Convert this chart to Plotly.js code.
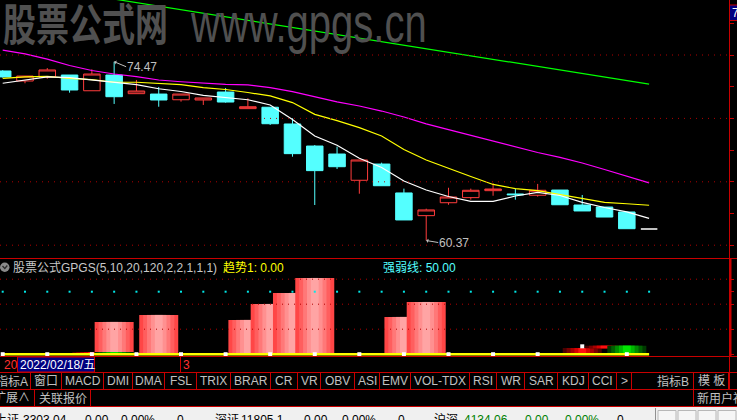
<!DOCTYPE html>
<html><head><meta charset="utf-8">
<script src="https://cdn.plot.ly/plotly-3.0.1.min.js"></script>
<style>html,body{margin:0;padding:0;background:#000;overflow:hidden}#chart{width:737px;height:420px}</style>
</head><body><div id="chart"></div>
<script>
// ---------------- data ----------------
const days  = [0,1,2,3,4,5,6,7,8,9,10,11,12,13,14,15,16,17,18,19,20,21,22,23,24,25,26,27,28,29];
const open  = [73.74,72.95,73.27,73.42,72.18,73.42,71.95,71.92,71.47,71.45,72.08,70.77,70.88,69.56,67.82,67.19,65.12,66.40,64.12,62.33,63.35,63.75,64.30,64.04,63.94,64.35,63.17,63.01,62.62,61.28];
const high  = [73.80,73.34,73.97,73.42,73.87,74.47,73.03,72.48,71.92,71.61,72.40,71.59,70.88,70.01,67.90,67.77,66.72,66.51,64.46,62.88,64.53,64.46,64.88,64.46,64.83,64.35,63.96,63.01,62.62,61.28];
const low   = [73.22,72.77,73.13,72.03,72.18,71.14,71.95,70.92,71.32,71.06,71.24,70.77,69.48,66.98,63.17,66.01,64.06,64.69,61.99,60.37,63.19,63.59,63.90,63.59,63.83,63.19,62.70,62.22,61.30,61.28];
const close = [73.27,73.34,73.82,72.24,73.50,71.71,72.16,71.45,71.92,71.61,71.29,70.92,69.58,67.22,65.88,66.19,66.72,64.69,61.99,62.78,63.80,64.33,64.43,63.98,64.33,63.19,62.70,62.22,61.30,61.28];
const ma5   = [72.77,73.00,73.27,73.22,73.05,72.87,72.67,72.34,72.12,71.81,71.62,71.47,71.06,69.91,68.61,67.88,66.86,66.13,65.06,64.35,63.84,63.46,63.46,63.88,64.16,63.92,63.38,62.97,62.63,62.11];
const ma10  = [73.16,73.28,73.32,73.15,73.05,72.85,72.85,72.77,72.67,72.42,72.28,72.04,71.77,71.25,70.32,69.82,69.27,68.61,67.55,66.72,66.05,65.42,64.79,64.46,64.31,64.01,63.67,63.38,63.27,63.15];
const ma20  = [75.38,75.09,74.67,74.17,73.78,73.50,73.30,73.03,72.89,72.76,72.68,72.65,72.43,72.11,71.72,71.31,70.98,70.58,70.11,69.57,69.11,68.66,68.18,67.74,67.31,66.92,66.48,65.97,65.46,64.91];
const ma120 = [80.81,80.53,80.25,79.96,79.68,79.41,79.14,78.84,78.57,78.29,78.00,77.73,77.46,77.18,76.89,76.62,76.33,76.06,75.78,75.50,75.22,74.93,74.65,74.38,74.10,73.82,73.54,73.27,72.99,72.70];

// indicator GPGS
const trend1   = [0,0,0,0,0,0,0,0,0,0,0,0,0,0,0,0,0,0,0,0,0,0,0,0,0,0,0,0,0,0];
const strong   = [50,50,50,50,50,50,50,50,50,50,50,50,50,50,50,50,50,50,50,50,50,50,50,50,50,50,50,50,50,50];
const auxDots  = [0,null,0,null,0,null,0,null,0,null,0,null,0,null,0,null,0,null,0,null,0,null,0,null,0,null,6.3,null,0,null];
const power    = [0,0,0,0,0,25.8,0,31.4,0,0,0,27.4,40.2,49.0,61.0,0,0,0,29.8,41.8,0,0,0,0,0,0,0,0,0,0];
const swingLo  = [null,null,null,null,-0.24,-0.24,null,null,null,null,null,null,null,null,null,null,null,null,null,null,null,null,null,null,null,-0.6,-0.64,4.72,-0.64,null];
const swingHi  = [null,null,null,null,1.76,1.76,null,null,null,null,null,null,null,null,null,null,null,null,null,null,null,null,null,null,null,0.4,4.96,6.8,6.8,null];
const swingDir = [0,0,0,0,1,-1,0,0,0,0,0,0,0,0,0,0,0,0,0,0,0,0,0,0,0,1,1,1,-1,0];

// texts
const watermarkCn = '股票公式网';
const watermarkUrl = 'www.gpgs.cn';
const indTitle = '股票公式GPGS(5,10,20,120,2,2,1,1,1)';
const trendLbl = '趋势1: ' + trend1[trend1.length-1].toFixed(2);
const strongLbl = '强弱线: ' + strong[strong.length-1].toFixed(2);
const dateLbl = '2022/02/18/五';
const btnLabels = ['指标A','窗口','MACD','DMI','DMA','FSL','TRIX','BRAR','CR','VR','OBV','ASI','EMV','VOL-TDX','RSI','WR','SAR','KDJ','CCI','>'];
const row3Labels = ['扩展∧','关联报价','新用户福利'];
const statusItems = ['上证','3303.04','0.00','0.00%','0','深证','11805.1','0.00','0.00%','0','沪深','4134.06','0.00','0.00%','0'];

// ---------------- helpers ----------------
const W = 737, H = 420;
const X = px => px / W;
const Y = py => 1 - py / H;
const RED = '#c80000';
const FONT = 'Liberation Sans, Arial, Noto Sans CJK SC, sans-serif';

const traces = [];
const n = days.length, last = n - 1;

// candles
traces.push({
  type: 'candlestick', x: days.slice(0, last),
  open: open.slice(0, last), high: high.slice(0, last), low: low.slice(0, last), close: close.slice(0, last),
  increasing: {line: {color: '#ff3c3c', width: 1}, fillcolor: '#000000'},
  decreasing: {line: {color: '#54ffff', width: 1}, fillcolor: '#54ffff'},
  whiskerwidth: 0, hoverinfo: 'skip', showlegend: false, xaxis: 'x', yaxis: 'y'
});
traces.push({
  type: 'candlestick', x: [days[last]],
  open: [open[last]], high: [high[last]], low: [low[last]], close: [close[last]],
  increasing: {line: {color: '#ffffff', width: 1.5}, fillcolor: '#ffffff'},
  decreasing: {line: {color: '#ffffff', width: 1.5}, fillcolor: '#ffffff'},
  whiskerwidth: 0, hoverinfo: 'skip', showlegend: false, xaxis: 'x', yaxis: 'y'
});
[[ma120,'#00ff00'],[ma20,'#ff00ff'],[ma10,'#ffff00'],[ma5,'#ffffff']].forEach(([v,c]) => {
  traces.push({type:'scatter', mode:'lines', x: days, y: v, line:{color:c, width:1.2}, hoverinfo:'skip', showlegend:false, xaxis:'x', yaxis:'y'});
});

// indicator: strength dots, trend line, aux dots
traces.push({type:'scatter', mode:'markers', x: days, y: strong, marker:{color:'#00e8e8', size:2, symbol:'square'}, hoverinfo:'skip', showlegend:false, xaxis:'x', yaxis:'y2'});
traces.push({type:'scatter', mode:'lines', x: days, y: trend1, line:{color:'#ffff00', width:2.5}, hoverinfo:'skip', showlegend:false, xaxis:'x', yaxis:'y2'});
traces.push({type:'scatter', mode:'markers', x: days, y: auxDots, marker:{color:'#ffffff', size:4, symbol:'square'}, hoverinfo:'skip', showlegend:false, xaxis:'x', yaxis:'y2'});

const stripeW = [1.75, 1.4, 1.05, 0.7, 0.35];
const pinkC  = ['#ff4646','#ff5e5e','#ff7878','#ff9090','#ffa4a4'];
const dRedC  = ['#4a0000','#780000','#a80000','#d80000','#ff1010'];
const greenC = ['#003a00','#006000','#008c00','#00b800','#00e600'];
function stripes(i, base, top, colors) {
  stripeW.forEach((w, k) => traces.push({
    type:'bar', x:[days[i]], y:[top - base], base:[base], width:[w],
    marker:{color: colors[k], line:{width:0}}, hoverinfo:'skip', showlegend:false, xaxis:'x', yaxis:'y2'
  }));
}
days.forEach((d, i) => { if (power[i] > 0) stripes(i, 0, power[i], pinkC); });
days.forEach((d, i) => { if (swingDir[i] !== 0) stripes(i, swingLo[i], swingHi[i], swingDir[i] > 0 ? dRedC : greenC); });

// ---------------- shapes ----------------
const shapes = [];
const hl = (py, x0, x1, color, w) => shapes.push({type:'line', xref:'paper', yref:'paper', x0:X(x0), x1:X(x1), y0:Y(py), y1:Y(py), line:{color: color||RED, width: w||1}});
const vl = (px, y0, y1, color, w) => shapes.push({type:'line', xref:'paper', yref:'paper', x0:X(px), x1:X(px), y0:Y(y0), y1:Y(y1), line:{color: color||RED, width: w||1}});
const rect = (x0, y0, x1, y1, fill, lc) => shapes.push({type:'rect', xref:'paper', yref:'paper', x0:X(x0), x1:X(x1), y0:Y(y0), y1:Y(y1), fillcolor: fill, line:{color: lc||fill, width: lc ? 1 : 0}});

[60,65,70,75].forEach(v => shapes.push({type:'line', xref:'paper', yref:'y', x0:0, x1:X(729), y0:v, y1:v, line:{color:'#b00000', width:1, dash:'1px,5px'}}));
[20,40,60].forEach(v => shapes.push({type:'line', xref:'paper', yref:'y2', x0:0, x1:X(729), y0:v, y1:v, line:{color:'#b00000', width:1, dash:'1px,5px'}}));

hl(258.5, 0, 737); hl(356.5, 0, 737); hl(372.5, 0, 737); hl(389.5, 0, 737); hl(406.5, 0, 737);
vl(729.5, 0, 389.5);
vl(730.5, 258.5, 356.5, RED, 2);
vl(180.5, 356.5, 372.5);
const btnEdges = [-6, 30.5, 61.5, 103.5, 132.5, 164.5, 196.5, 230.5, 270.5, 297.5, 320.5, 354.5, 379.5, 410.5, 469.5, 496.5, 524.5, 557.5, 588.5, 616.5, 631.5];
btnEdges.slice(1).forEach(e => vl(e, 372.5, 389.5));
vl(693.5, 372.5, 389.5); vl(728.5, 372.5, 389.5);
[34.5, 90.5, 693.5].forEach(e => vl(e, 389.5, 406.5));
rect(17.5, 357, 94.5, 372, '#000080', RED);
rect(729.5, 5, 745, 20.5, '#000080', RED);
rect(0, 407, 737, 420, '#f0f0f0');
vl(655.5, 408, 420, '#909090');
[658, 678, 698, 718].forEach(b => rect(b, 410.5, b + 18, 422, '#f6f6f6', '#b8b8b8'));
shapes.push({type:'circle', xref:'paper', yref:'paper', x0:X(0), x1:X(9.5), y0:Y(262.5), y1:Y(272), fillcolor:'#8a8a8a', line:{width:0}});
shapes.push({type:'path', xref:'paper', yref:'paper', path:`M ${X(2.5)} ${Y(266)} L ${X(4.8)} ${Y(268.5)} L ${X(7.3)} ${Y(265.5)}`, line:{color:'#2a2a2a', width:1.3}});

// ---------------- annotations ----------------
const ann = [];
const txt = (t, px, py, color, size, xanchor, extra) => ann.push(Object.assign({
  text: t, xref:'paper', yref:'paper', x: X(px), y: Y(py), xanchor: xanchor||'center', yanchor:'middle',
  showarrow:false, borderpad:0, font:{family: FONT, size: size||12, color: color}
}, extra||{}));

// watermark: narrow glyphs, stretched vertically after drawing
const stretch = {};
stretch[watermarkCn] = 1.33;
stretch[watermarkUrl] = 1.4;
txt(watermarkCn, 85, 22, '#505050', 33, 'center', {font:{family:'Noto Sans CJK SC', size:33, color:'#505050', weight:700}});
txt(watermarkUrl, 308, 22, '#505050', 40, 'center');

// high / low marks (from data)
const hiIdx = high.indexOf(Math.max(...high));
const loIdx = low.indexOf(Math.min(...low));
[[hiIdx, high[hiIdx], 12, 5], [loIdx, low[loIdx], 12, 2]].forEach(([i, v, ax, ay]) => ann.push({
  text: v.toFixed(2), x: days[i], y: v, xref:'x', yref:'y', showarrow:true, ax: ax, ay: ay,
  xanchor:'left', yanchor:'middle', arrowhead:1, arrowsize:0.7, arrowwidth:1, arrowcolor:'#c0c0c0',
  standoff:0, borderpad:0, font:{family: FONT, size:12, color:'#c0c0c0'}
}));

txt('77.63', 731, 13, '#ffffff', 12, 'left');

txt(indTitle, 12, 267.5, '#c8c8c8', 12, 'left');
txt(trendLbl, 222, 267.5, '#ffff00', 12, 'left');
txt(strongLbl, 382, 267.5, '#54ffff', 12, 'left');

txt('20', 3, 364.5, '#ff3030', 12, 'left');
txt(dateLbl, 19, 364.5, '#ffffff', 12, 'left');
txt('3', 182, 364.5, '#ff3030', 12, 'left');

btnLabels.forEach((b, k) => {
  if (k === 0) txt(b, 29, 381, '#c0c0c0', 12, 'right');
  else txt(b, (btnEdges[k] + btnEdges[k+1]) / 2, 381, '#c0c0c0', 12, 'center');
});
txt('指标B', 690, 381, '#c0c0c0', 12, 'right');
txt('模 板', 711, 381, '#c0c0c0', 12, 'center');
txt(row3Labels[0], 31, 398, '#c0c0c0', 12, 'right');
txt(row3Labels[1], 62.5, 398, '#c0c0c0', 12, 'center');
txt(row3Labels[2], 696, 398, '#c0c0c0', 12, 'left');

const statusX = [-6, 22, 84, 120, 176, 214, 240, 303, 341, 397, 433, 463, 524, 564, 616];
statusItems.forEach((s, k) => {
  const green = k >= 11 && k <= 13;
  txt(s, statusX[k], 420, green ? '#008000' : '#000000', 12, 'left');
});

// ---------------- layout ----------------
const layout = {
  width: W, height: H, margin:{l:0, r:0, t:0, b:0, pad:0},
  paper_bgcolor:'#000000', plot_bgcolor:'#000000', showlegend:false, hovermode:false,
  barmode:'overlay', boxgap:0.26, boxgroupgap:0,
  xaxis:{domain:[0, X(729)], range:[-0.1211, 32.584], showgrid:false, zeroline:false, showticklabels:false,
         ticks:'', showline:false, rangeslider:{visible:false}, fixedrange:true, anchor:'y'},
  yaxis:{domain:[Y(258), 1], range:[58.99, 79.3375], side:'right', anchor:'x',
         tickvals:[60,62.5,65,67.5,70,72.5,75,77.5], ticks:'outside', ticklen:4, tickcolor:RED,
         showticklabels:false, showgrid:false, zeroline:false, showline:false, fixedrange:true},
  yaxis2:{domain:[Y(356), Y(258)], range:[-1.44, 76.96], side:'right', anchor:'x',
         tickvals:[0,20,40,50,60], ticks:'outside', ticklen:4, tickcolor:RED,
         showticklabels:false, showgrid:false, zeroline:false, showline:false, fixedrange:true},
  shapes: shapes, annotations: ann
};
Plotly.newPlot('chart', traces, layout, {staticPlot:true, displayModeBar:false}).then(gd => {
  gd.querySelectorAll('text.annotation-text').forEach(t => {
    const k = stretch[t.textContent];
    if (k) {
      const bb = t.getBBox();
      const cy = bb.y + bb.height / 2;
      t.setAttribute('transform', `translate(0,${cy}) scale(1,${k}) translate(0,${-cy})`);
    }
  });
});
</script>
</body></html>
